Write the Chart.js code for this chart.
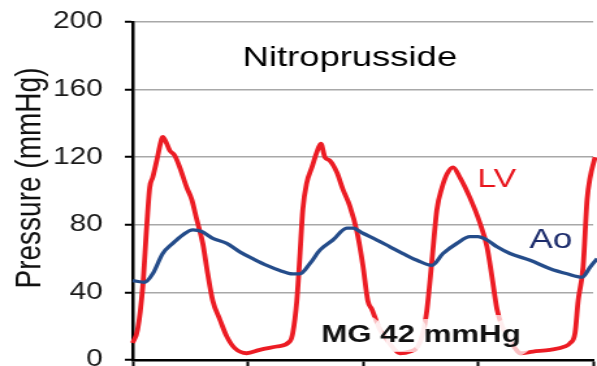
<!DOCTYPE html>
<html>
<head>
<meta charset="utf-8">
<script src="https://cdn.jsdelivr.net/npm/chart.js@4/dist/chart.umd.min.js"></script>
<style>
  html, body { margin: 0; padding: 0; background: #ffffff; overflow: hidden; }
</style>
</head>
<body>
<!-- the drawing surface is widened horizontally, as in the printed figure -->
<canvas id="c" width="459" height="366" style="display:block;width:597px;height:366px"></canvas>
<script>
// Left-ventricular pressure trace (time in beat-grid units, pressure in mmHg)
const lvTime = [0.000, 0.043, 0.087, 0.122, 0.148, 0.174, 0.209, 0.252, 0.261, 0.296, 0.322, 0.365, 0.409, 0.470, 0.513, 0.557, 0.609, 0.652, 0.696, 0.757, 0.817, 0.887, 0.991, 1.104, 1.252, 1.365, 1.391, 1.426, 1.452, 1.478, 1.513, 1.557, 1.600, 1.635, 1.670, 1.713, 1.774, 1.826, 1.887, 1.948, 2.000, 2.043, 2.078, 2.148, 2.209, 2.278, 2.322, 2.409, 2.478, 2.522, 2.557, 2.600, 2.643, 2.687, 2.730, 2.783, 2.843, 2.930, 3.017, 3.078, 3.122, 3.165, 3.209, 3.252, 3.322, 3.365, 3.478, 3.626, 3.757, 3.800, 3.843, 3.870, 3.913, 3.948, 3.974, 4.017];
const lvPressure = [10, 18, 43, 79, 102, 108, 118, 131, 132, 128, 124, 121, 114, 102, 95, 83, 69, 51, 35, 24, 14, 7, 4, 6, 8, 11, 16, 35, 61, 89, 105, 114, 123, 128, 120, 118, 111, 101, 91, 76, 56, 35, 30, 18, 12, 6, 4, 5, 8, 16, 30, 59, 89, 102, 110, 114, 108, 96, 81, 67, 49, 30, 20, 14, 7, 4, 5, 6, 8, 10, 16, 35, 55, 95, 108, 120];

// Aortic pressure trace
const aoTime = [0.000, 0.104, 0.174, 0.261, 0.348, 0.435, 0.522, 0.600, 0.696, 0.817, 0.930, 1.043, 1.165, 1.278, 1.391, 1.452, 1.539, 1.626, 1.739, 1.861, 1.913, 2.000, 2.122, 2.235, 2.348, 2.470, 2.600, 2.696, 2.817, 2.930, 3.000, 3.078, 3.165, 3.278, 3.452, 3.626, 3.774, 3.904, 3.974, 4.035];
const aoPressure = [47, 46, 51, 63, 69, 74, 77, 76, 72, 69, 64, 60, 56, 53, 51, 51, 57, 65, 71, 78, 78, 75, 71, 67, 63, 59, 56, 63, 69, 73, 73, 71, 67, 63, 59, 54, 51, 49, 55, 60];

const yTicks = [0, 40, 80, 120, 160, 200];
const xTicks = [0, 1, 2, 3, 4];

const FONT = '"Liberation Sans", Arial, Helvetica, sans-serif';

const toPoints = (xs, ys) => xs.map((x, i) => ({ x: x, y: ys[i] }));

// Free-standing labels: axis title, panel title, series names, gradient note
const labelPlugin = {
  id: 'traceLabels',
  afterDatasetsDraw(chart) {
    const ctx = chart.ctx;
    ctx.save();

    // vertical axis title
    ctx.save();
    ctx.translate(23, 178);
    ctx.rotate(-Math.PI / 2);
    ctx.font = '28px ' + FONT;
    ctx.fillStyle = '#111111';
    ctx.textAlign = 'center';
    ctx.textBaseline = 'middle';
    ctx.fillText('Pressure (mmHg)', 0, 0);
    ctx.restore();

    ctx.textBaseline = 'alphabetic';
    ctx.font = '28px ' + FONT;
    ctx.fillStyle = '#000000';
    ctx.textAlign = 'center';
    ctx.fillText('Nitroprusside', 269, 66);

    ctx.textAlign = 'left';
    ctx.font = '26px ' + FONT;
    ctx.fillStyle = '#e8141c';
    ctx.fillText('LV', 367, 187);

    ctx.font = '27px ' + FONT;
    ctx.fillStyle = '#1c2c6c';
    ctx.fillText('Ao', 407, 248);

    // soft white halo behind the gradient note
    ctx.font = 'bold 24px ' + FONT;
    ctx.lineJoin = 'round';
    ctx.strokeStyle = 'rgba(255,255,255,0.72)';
    ctx.lineWidth = 20;
    ctx.strokeText('MG 42 mmHg', 247, 342);
    ctx.fillStyle = '#111111';
    ctx.fillText('MG 42 mmHg', 247, 342);
    ctx.restore();
  }
};

new Chart(document.getElementById('c'), {
  type: 'line',
  data: {
    datasets: [
      {
        label: 'Ao',
        data: toPoints(aoTime, aoPressure),
        borderColor: '#244c8a',
        borderWidth: 3.3,
        pointRadius: 0,
        cubicInterpolationMode: 'monotone',
        clip: false,
        order: 0
      },
      {
        label: 'LV',
        data: toPoints(lvTime, lvPressure),
        borderColor: '#ec1c24',
        borderWidth: 3.8,
        pointRadius: 0,
        cubicInterpolationMode: 'monotone',
        clip: false,
        order: 1
      }
    ]
  },
  options: {
    responsive: false,
    animation: false,
    devicePixelRatio: 1,
    layout: { padding: { left: 0, right: 3, top: 22, bottom: 0 } },
    plugins: {
      legend: { display: false },
      tooltip: { enabled: false }
    },
    scales: {
      x: {
        type: 'linear',
        min: 0,
        max: 4,
        afterBuildTicks: (s) => { s.ticks = xTicks.map(v => ({ value: v })); },
        ticks: { display: false },
        grid: { drawOnChartArea: false, drawTicks: true, tickLength: 6, tickColor: '#000000', tickWidth: 2 },
        border: { color: '#000000', width: 2.5 },
        afterFit: (s) => { s.height = 6; }
      },
      y: {
        min: 0,
        max: 200,
        afterBuildTicks: (s) => { s.ticks = yTicks.map(v => ({ value: v })); },
        ticks: {
          font: { family: FONT, size: 23 },
          color: '#1a1a1a',
          padding: 17
        },
        grid: { color: '#a8a8a8', lineWidth: 1.5, tickLength: 6, tickColor: '#000000', tickWidth: 2 },
        border: { color: '#000000', width: 2.5 },
        title: { display: false },
        afterFit: (s) => { s.width = 102; s.paddingTop = 0; s.paddingBottom = 0; }
      }
    }
  },
  plugins: [labelPlugin]
});
</script>
</body>
</html>
